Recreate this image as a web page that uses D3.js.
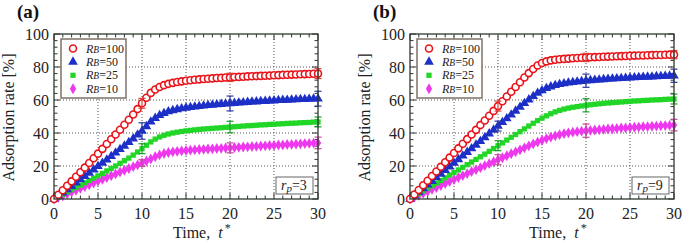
<!DOCTYPE html>
<html><head><meta charset="utf-8">
<script src="https://cdn.jsdelivr.net/npm/d3@7/dist/d3.min.js"></script>
<style>body{margin:0;background:#fff}svg{display:block}svg text{font-family:'Liberation Serif','Times New Roman','DejaVu Serif',serif}</style>
</head><body><svg id="c" width="685" height="244" font-family="Liberation Serif, Times New Roman, DejaVu Serif, serif"></svg>
<script>
// time grid: 0 to 30, step 0.5
const times = d3.range(0, 30.01, 0.5);
const xTicks = [0, 5, 10, 15, 20, 25, 30];
const yTicks = [0, 20, 40, 60, 80, 100];
const seriesNames = ["RB=100", "RB=50", "RB=25", "RB=10"];
const errTimes = [10, 20, 30];

// Panel (a), r_p = 3
const a_RB100 = [0,2.6,5.3,8.0,10.7,13.5,16.2,19.0,21.8,24.7,27.5,30.4,33.3,36.2,39.1,42.0,45.0,48.0,51.2,54.5,58.0,61.4,64.3,66.4,67.9,69.0,69.8,70.4,70.9,71.3,71.7,72.0,72.3,72.5,72.7,72.9,73.1,73.3,73.4,73.6,73.7,73.9,74.0,74.1,74.3,74.4,74.5,74.6,74.7,74.8,75.0,75.1,75.2,75.3,75.4,75.5,75.6,75.7,75.8,75.9,76.0];
const a_RB50 = [0,1.9,3.8,5.8,7.8,9.8,11.8,13.8,15.8,17.8,19.8,21.8,23.8,25.9,28.0,30.1,32.2,34.4,36.6,38.9,41.2,44.0,46.8,49.0,50.7,52.0,53.0,53.7,54.3,54.8,55.2,55.6,55.9,56.2,56.5,56.8,57.0,57.3,57.5,57.7,57.9,58.1,58.3,58.5,58.7,58.9,59.0,59.2,59.3,59.5,59.6,59.8,59.9,60.0,60.1,60.3,60.4,60.5,60.6,60.7,60.8];
const a_RB25 = [0,1.4,2.8,4.2,5.6,7.0,8.4,9.8,11.2,12.6,14.0,15.5,17.0,18.5,20.0,21.6,23.2,24.8,26.6,28.5,30.5,32.6,34.6,36.3,37.6,38.6,39.4,40.0,40.5,40.9,41.3,41.6,41.9,42.2,42.4,42.6,42.8,43.0,43.2,43.4,43.6,43.8,44.0,44.2,44.4,44.5,44.7,44.9,45.0,45.2,45.3,45.5,45.6,45.8,45.9,46.0,46.2,46.3,46.4,46.6,46.7];
const a_RB10 = [0,1.0,2.0,3.1,4.2,5.3,6.4,7.5,8.6,9.7,10.8,11.9,13.0,14.1,15.2,16.3,17.4,18.5,19.6,20.7,21.8,23.0,24.3,25.6,26.7,27.6,28.2,28.6,28.9,29.2,29.4,29.6,29.8,30.0,30.1,30.3,30.4,30.6,30.7,30.9,31.0,31.2,31.3,31.5,31.6,31.8,31.9,32.1,32.2,32.4,32.5,32.7,32.8,33.0,33.1,33.3,33.4,33.6,33.7,33.9,34.0];
const a_err = [[3,2.5,3],[5,4.5,4.5],[3,3.5,3],[2,3,3.5]];

// Panel (b), r_p = 9
const b_RB100 = [0,2.7,5.5,8.3,11.1,13.9,16.7,19.5,22.3,25.1,27.9,30.7,33.5,36.3,39.1,41.9,44.8,47.6,50.5,53.4,56.3,59.2,62.1,65.0,67.9,70.8,73.6,76.3,78.8,80.9,82.4,83.4,84.0,84.4,84.7,84.9,85.1,85.3,85.5,85.6,85.8,85.9,86.0,86.1,86.2,86.3,86.4,86.5,86.6,86.7,86.8,86.9,87.0,87.0,87.1,87.2,87.3,87.3,87.4,87.5,87.5];
const b_RB50 = [0,2.1,4.2,6.4,8.6,10.8,13.0,15.2,17.4,19.6,21.8,24.0,26.2,28.4,30.6,32.8,35.0,37.3,39.6,41.9,44.2,46.5,48.8,51.1,53.4,55.7,58.0,60.2,62.3,64.2,65.8,67.1,68.1,68.9,69.5,70.0,70.4,70.8,71.1,71.4,71.7,71.9,72.1,72.3,72.5,72.7,72.9,73.0,73.2,73.3,73.5,73.6,73.8,73.9,74.0,74.1,74.3,74.4,74.5,74.6,74.7];
const b_RB25 = [0,1.6,3.2,4.8,6.4,8.0,9.6,11.2,12.8,14.4,16.0,17.6,19.2,20.8,22.4,24.0,25.6,27.2,28.9,30.6,32.3,34.0,35.7,37.4,39.1,40.8,42.5,44.2,45.9,47.5,49.0,50.4,51.7,52.8,53.7,54.5,55.1,55.6,56.0,56.4,56.8,57.1,57.4,57.7,58.0,58.2,58.4,58.6,58.8,59.0,59.2,59.4,59.5,59.7,59.8,60.0,60.1,60.2,60.4,60.5,60.6];
const b_RB10 = [0,1.1,2.2,3.4,4.6,5.8,7.0,8.2,9.4,10.6,11.8,13.0,14.2,15.4,16.6,17.8,19.0,20.2,21.4,22.6,23.8,25.0,26.2,27.4,28.6,29.8,31.0,32.2,33.4,34.5,35.6,36.6,37.5,38.3,39.0,39.6,40.1,40.5,40.8,41.1,41.4,41.6,41.8,42.0,42.2,42.4,42.6,42.8,43.0,43.1,43.3,43.5,43.6,43.8,43.9,44.1,44.2,44.4,44.5,44.6,44.8];
const b_err = [[3,2.5,2.5],[3,4,4],[3,4,3],[3,4,3.5]];

const colors = ["#e8141b", "#1c2fc6", "#22d628", "#ee38ee"];
const errColors = ["#e0403a", "#2a3aa0", "#1c9e2a", "#c4489a"];
const FONT = "Liberation Serif, Times New Roman, DejaVu Serif, serif";

const svg = d3.select("#c");

function drawPanel(o) {
  const x = d3.scaleLinear().domain([0, 30]).range([o.x0, o.x1]);
  const y = d3.scaleLinear().domain([0, 100]).range([199, 34]);
  const g = svg.append("g").attr("font-family", FONT);
  // grid
  g.selectAll(".gx").data(xTicks.slice(1, -1)).join("line")
    .attr("x1", d => x(d)).attr("x2", d => x(d)).attr("y1", y(0)).attr("y2", y(100))
    .attr("stroke", "#555").attr("stroke-width", 1).attr("stroke-dasharray", "1,2");
  g.selectAll(".gy").data(yTicks.slice(1, -1)).join("line")
    .attr("x1", x(0)).attr("x2", x(30)).attr("y1", d => y(d)).attr("y2", d => y(d))
    .attr("stroke", "#555").attr("stroke-width", 1).attr("stroke-dasharray", "1,2");
  // ticks (inward, all four sides)
  const minorX = d3.range(0, 30.01, 1), minorY = d3.range(0, 100.01, 4);
  const tk = g.append("g").attr("stroke", "#333").attr("stroke-width", 1);
  minorX.forEach(v => {
    const L = (v % 5 === 0) ? 6 : 3.5;
    tk.append("line").attr("x1", x(v)).attr("x2", x(v)).attr("y1", y(0)).attr("y2", y(0) - L);
    tk.append("line").attr("x1", x(v)).attr("x2", x(v)).attr("y1", y(100)).attr("y2", y(100) + L);
  });
  minorY.forEach(v => {
    const L = (v % 20 === 0) ? 6 : 3.5;
    tk.append("line").attr("x1", x(0)).attr("x2", x(0) + L).attr("y1", y(v)).attr("y2", y(v));
    tk.append("line").attr("x1", x(30)).attr("x2", x(30) - L).attr("y1", y(v)).attr("y2", y(v));
  });
  // tick labels
  g.selectAll(".xl").data(xTicks).join("text")
    .attr("x", d => x(d)).attr("y", 219).attr("text-anchor", "middle")
    .attr("font-size", 16).attr("fill", "#222").text(d => d);
  g.selectAll(".yl").data(yTicks).join("text")
    .attr("x", x(0) - 5).attr("y", d => y(d) + 5.5).attr("text-anchor", "end")
    .attr("font-size", 16).attr("fill", "#222").text(d => d);
  // axis titles
  const xt = g.append("text").attr("x", x(0) + 119).attr("y", 238).attr("font-size", 16).attr("fill", "#222");
  xt.append("tspan").text("Time,\u00a0\u00a0");
  xt.append("tspan").attr("font-style", "italic").text("t");
  xt.append("tspan").attr("font-size", 12).attr("dy", -6).attr("dx", 2).text("*");
  g.append("text").attr("transform", `translate(${o.x0 - 40},${(y(0) + y(100)) / 2 + 1}) rotate(-90)`)
    .attr("text-anchor", "middle").attr("font-size", 16).attr("fill", "#222").text("Adsorption rate [%]");
  g.append("text").attr("x", o.x0 - 37).attr("y", 18).attr("font-size", 19).attr("font-weight", "bold").attr("fill", "#111").text(o.label);

  // data
  const data = o.series;
  const symbols = [null, d3.symbolTriangle, d3.symbolSquare, d3.symbolDiamond];
  const symSize = [0, 40, 28, 34];
  function marker(sel, i, cx, cy) {
    if (i === 0) {
      sel.append("circle").attr("cx", cx).attr("cy", cy).attr("r", 3.5)
        .attr("fill", "#fff").attr("stroke", colors[0]).attr("stroke-width", 1.6);
    } else {
      sel.append("path").attr("d", d3.symbol(symbols[i], symSize[i])())
        .attr("transform", `translate(${cx},${cy})`).attr("fill", colors[i]);
    }
  }
  for (let i = 3; i >= 0; i--) {
    const sg = g.append("g");
    times.forEach((t, k) => marker(sg, i, x(t), y(data[i][k])));
  }
  // error bars
  for (let i = 3; i >= 0; i--) {
    errTimes.forEach((t, k) => {
      const v = data[i][times.indexOf(t)], e = o.err[i][k];
      const eg = g.append("g").attr("stroke", errColors[i]).attr("stroke-width", 1.2);
      eg.append("line").attr("x1", x(t)).attr("x2", x(t)).attr("y1", y(v - e)).attr("y2", y(v + e));
      [v - e, v + e].forEach(w => eg.append("line").attr("x1", x(t) - 3.5).attr("x2", x(t) + 3.5).attr("y1", y(w)).attr("y2", y(w)));
    });
  }
  // frame
  g.append("rect").attr("x", x(0)).attr("y", y(100)).attr("width", x(30) - x(0)).attr("height", y(0) - y(100))
    .attr("fill", "none").attr("stroke", "#2f3a2f").attr("stroke-width", 1.3);

  // legend
  const lx = x(0) + 7, ly = 39;
  g.append("rect").attr("x", lx).attr("y", ly).attr("width", 65).attr("height", 59)
    .attr("fill", "#fff").attr("stroke", "#7d716a").attr("stroke-width", 1.5);
  seriesNames.forEach((nm, i) => {
    const cy = ly + 9.5 + i * 13.4;
    marker(g, i, lx + 12, cy);
    const tx = g.append("text").attr("x", lx + 25).attr("y", cy + 4).attr("font-size", 12).attr("fill", "#222");
    tx.append("tspan").attr("font-style", "italic").text("R");
    tx.append("tspan").attr("font-style", "italic").attr("font-size", 9.5).text("B");
    tx.append("tspan").text(nm.slice(2));
  });
  // r_p box
  const bx = x(30) - 42, by = 177;
  g.append("rect").attr("x", bx).attr("y", by).attr("width", 37).attr("height", 17)
    .attr("fill", "#fff").attr("stroke", "#666").attr("stroke-width", 1);
  const rt = g.append("text").attr("x", bx + 5).attr("y", by + 12.5).attr("font-size", 14).attr("fill", "#222");
  rt.append("tspan").attr("font-style", "italic").text("r");
  rt.append("tspan").attr("font-style", "italic").attr("font-size", 11).attr("dy", 2).text("p");
  rt.append("tspan").attr("dy", -2).text("=" + o.rp);
}

drawPanel({x0: 54, x1: 318, label: "(a)", rp: 3, series: [a_RB100, a_RB50, a_RB25, a_RB10], err: a_err});
drawPanel({x0: 410, x1: 674, label: "(b)", rp: 9, series: [b_RB100, b_RB50, b_RB25, b_RB10], err: b_err});
</script></body></html>
